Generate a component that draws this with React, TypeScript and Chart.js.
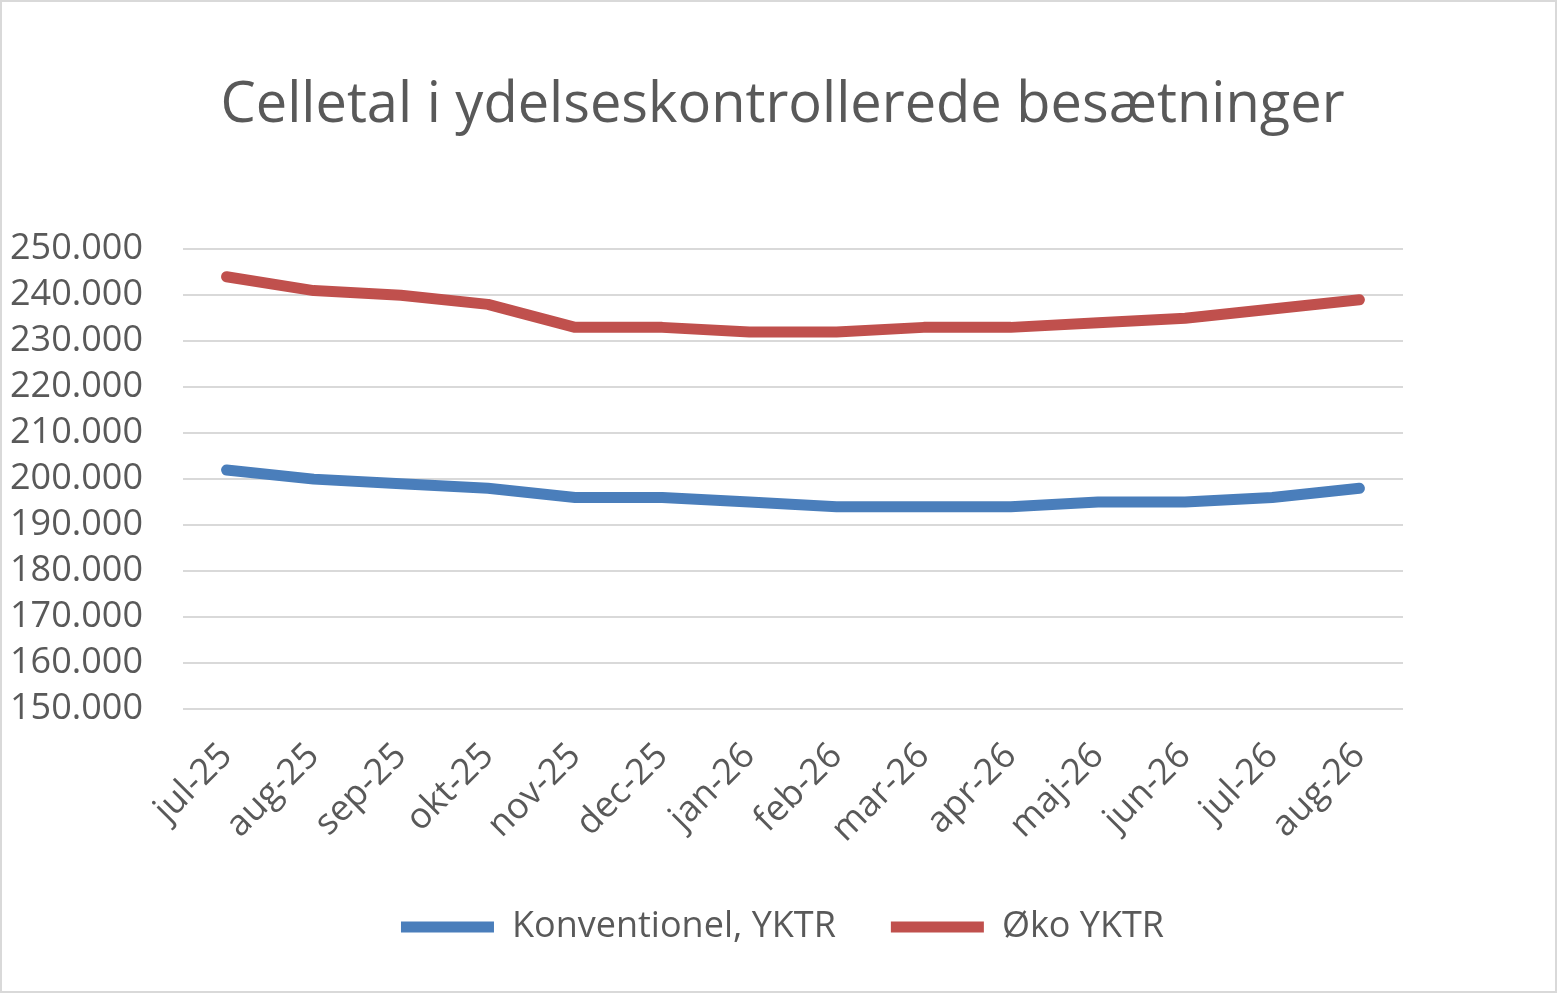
import React, { useEffect, useRef } from 'react';
import Chart from 'chart.js/auto';

const months = ['jul-25', 'aug-25', 'sep-25', 'okt-25', 'nov-25', 'dec-25', 'jan-26', 'feb-26', 'mar-26', 'apr-26', 'maj-26', 'jun-26', 'jul-26', 'aug-26'];
const konventionel = [202000, 200000, 199000, 198000, 196000, 196000, 195000, 194000, 194000, 194000, 195000, 195000, 196000, 198000];
const oko = [244000, 241000, 240000, 238000, 233000, 233000, 232000, 232000, 233000, 233000, 234000, 235000, 237000, 239000];
const seriesNames = ['Konventionel, YKTR', 'Øko YKTR'];
const chartTitle = 'Celletal i ydelseskontrollerede besætninger';

const textColor = '#595959';
const fontFamily = "'Open Sans', sans-serif";
const yTickPadding = 40;

// 250000 -> "250.000"
const formatDk = (v: number) => String(Math.round(v)).replace(/\B(?=(\d{3})+(?!\d))/g, '.');

const App: React.FC = () => {
    const chartRef = useRef<HTMLCanvasElement | null>(null);

    useEffect(() => {
        const ctx = chartRef.current?.getContext('2d');
        if (!ctx) {
            return;
        }

        const myChart = new Chart(ctx, {
            type: 'line',
            data: {
                labels: months,
                datasets: [
                    {
                        label: seriesNames[0],
                        data: konventionel,
                        borderColor: '#4a7ebb',
                        backgroundColor: '#4a7ebb',
                        borderWidth: 11,
                        borderCapStyle: 'round',
                        borderJoinStyle: 'round',
                        pointRadius: 0,
                        pointStyle: 'line',
                        fill: false,
                        tension: 0,
                    },
                    {
                        label: seriesNames[1],
                        data: oko,
                        borderColor: '#c0504d',
                        backgroundColor: '#c0504d',
                        borderWidth: 11,
                        borderCapStyle: 'round',
                        borderJoinStyle: 'round',
                        pointRadius: 0,
                        pointStyle: 'line',
                        fill: false,
                        tension: 0,
                    },
                ],
            },
            options: {
                animation: false,
                responsive: true,
                maintainAspectRatio: false,
                layout: {
                    padding: { left: 8, right: 0, top: 10, bottom: 36 },
                },
                plugins: {
                    title: {
                        display: true,
                        text: chartTitle,
                        color: textColor,
                        font: { family: fontFamily, size: 56, weight: 'normal' },
                        padding: { top: 60, bottom: 110 },
                    },
                    legend: {
                        display: true,
                        position: 'bottom',
                        labels: {
                            usePointStyle: true,
                            pointStyleWidth: 93,
                            color: textColor,
                            font: { family: fontFamily, size: 36 },
                            padding: 55,
                        },
                    },
                    tooltip: { enabled: false },
                },
                scales: {
                    x: {
                        offset: true,
                        grid: { display: false },
                        border: { display: false },
                        ticks: {
                            color: textColor,
                            font: { family: fontFamily, size: 36 },
                            maxRotation: 45,
                            minRotation: 45,
                            autoSkip: false,
                            padding: 18,
                        },
                        afterFit: (scale) => {
                            // let the rotated first label hang into the y-label area
                            scale.paddingLeft = 0;
                            scale.paddingRight = 0;
                            // give back the room taken by the wider legend spacing
                            scale.height -= 15;
                        },
                    },
                    y: {
                        min: 150000,
                        max: 250000,
                        grid: { color: '#d9d9d9', lineWidth: 2, drawTicks: false },
                        border: { display: false },
                        ticks: {
                            stepSize: 10000,
                            autoSkip: false,
                            color: textColor,
                            font: { family: fontFamily, size: 36 },
                            padding: yTickPadding,
                            callback: (value) => formatDk(Number(value)),
                        },
                        afterFit: (scale) => {
                            // drop the padding Chart.js also adds on the outer side of the labels
                            scale.width -= yTickPadding;
                        },
                    },
                    // empty right-hand gutter so title and legend stay centred on the canvas
                    gutter: {
                        type: 'linear',
                        position: 'right',
                        grid: { display: false },
                        border: { display: false },
                        ticks: { display: false },
                        afterFit: (scale) => {
                            scale.width = 152;
                        },
                    },
                },
            },
        });

        return () => {
            myChart.destroy();
        };
    }, []);

    return (
        <div
            style={{
                position: 'absolute',
                left: 0,
                top: 0,
                width: 1557,
                height: 993,
                boxSizing: 'border-box',
                border: '2px solid #d9d9d9',
                background: '#fff',
            }}
        >
            <canvas ref={chartRef} />
        </div>
    );
};

export default App;
